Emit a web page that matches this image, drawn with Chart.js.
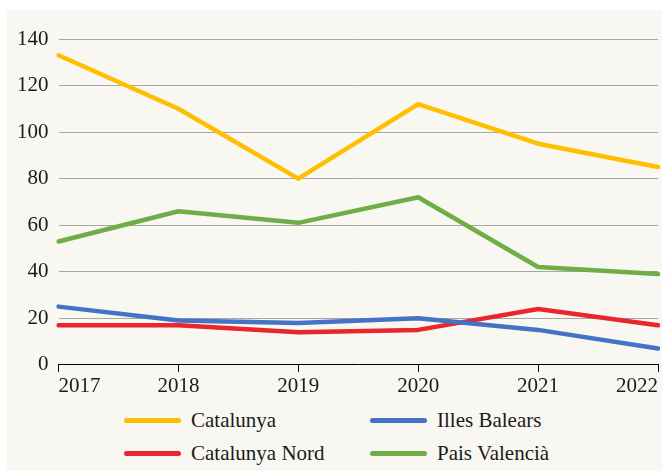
<!DOCTYPE html>
<html>
<head>
<meta charset="utf-8">
<script src="https://cdn.jsdelivr.net/npm/chart.js@4"></script>
<style>
  html, body { margin: 0; padding: 0; background: #fff; overflow: hidden; }
  #panel { position: absolute; left: 7px; top: 10px; width: 655px; height: 461px; background: #f8f7f1; overflow: hidden; }
  #wrap { position: absolute; left: 0; top: 0; width: 653px; height: 391px; }
  #legend { position: absolute; left: 117px; top: 398px; display: grid; grid-template-columns: 246px 200px; row-gap: 8px;
            font-family: "Liberation Serif", "DejaVu Serif", "Times New Roman", serif; font-size: 21px; color: #1a1a1a; }
  .item { display: flex; align-items: center; height: 25px; }
  .swatch { width: 57px; height: 5px; border-radius: 3px; margin-right: 10px; }
</style>
</head>
<body>
<div id="panel">
  <div id="wrap"><canvas id="chart"></canvas></div>
  <div id="legend"></div>
</div>
<script>
// Years on the x axis
const years = ['2017', '2018', '2019', '2020', '2021', '2022'];

// Series values
const catalunya = [133, 110, 80, 112, 95, 85];
const illesBalears = [25, 19, 18, 20, 15, 7];
const catalunyaNord = [17, 17, 14, 15, 24, 17];
const paisValencia = [53, 66, 61, 72, 42, 39];

// Legend order (two columns)
const seriesNames = ['Catalunya', 'Illes Balears', 'Catalunya Nord', 'Pais Valencià'];
const seriesColors = ['#ffbf00', '#4472c4', '#e8262b', '#6fad46'];
const seriesData = [catalunya, illesBalears, catalunyaNord, paisValencia];

const font = { family: '"Liberation Serif", "DejaVu Serif", "Times New Roman", serif', size: 21 };

function renderLineChart(canvasId) {
    const canvas = document.getElementById(canvasId);
    if (!canvas) {
        console.error(`Canvas element with id '${canvasId}' not found`);
        return;
    }
    const ctx = canvas.getContext('2d');

    const datasets = seriesNames.map((name, i) => ({
        label: name,
        data: seriesData[i],
        borderColor: seriesColors[i],
        backgroundColor: seriesColors[i],
        borderWidth: 4.5,
        pointRadius: 0,
        tension: 0,
        borderCapStyle: 'round',
        borderJoinStyle: 'round'
    }));

    const chart = new Chart(ctx, {
        type: 'line',
        data: { labels: years, datasets: datasets },
        options: {
            responsive: true,
            maintainAspectRatio: false,
            animation: false,
            layout: { padding: { top: 29, left: 0, right: 2, bottom: 0 } },
            plugins: {
                legend: { display: false },
                tooltip: { enabled: false }
            },
            scales: {
                x: {
                    offset: false,
                    grid: { display: true, drawOnChartArea: false, drawTicks: true, tickLength: 7, color: '#000' },
                    border: { display: true, color: '#000', width: 1 },
                    ticks: { font: font, color: '#1a1a1a', padding: 2, maxRotation: 0, align: 'inner' }
                },
                y: {
                    min: 0,
                    max: 140,
                    ticks: { stepSize: 20, font: font, color: '#1a1a1a', padding: 10 },
                    grid: { color: '#a6a6a6', lineWidth: 1, drawTicks: false },
                    border: { display: false }
                }
            }
        }
    });

    // HTML legend built from the datasets
    const legend = document.getElementById('legend');
    chart.data.datasets.forEach(ds => {
        const item = document.createElement('div');
        item.className = 'item';
        item.innerHTML = `<span class="swatch" style="background:${ds.borderColor}"></span><span>${ds.label}</span>`;
        legend.appendChild(item);
    });
}

renderLineChart('chart');
</script>
</body>
</html>
